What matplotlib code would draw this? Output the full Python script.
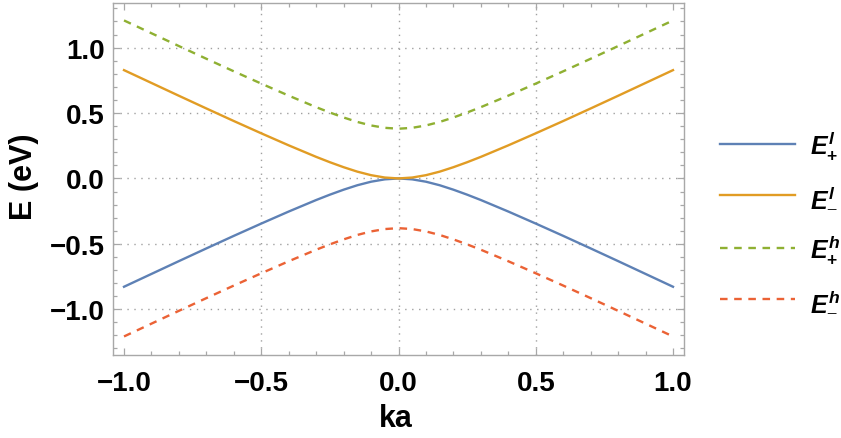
import matplotlib
matplotlib.use("Agg")
import matplotlib.pyplot as plt
from matplotlib.ticker import MultipleLocator

plt.rcParams['font.family'] = ['Liberation Sans', 'DejaVu Sans']
plt.rcParams['mathtext.fontset'] = 'custom'
plt.rcParams['mathtext.it'] = 'Liberation Sans:italic:bold'
plt.rcParams['mathtext.rm'] = 'Liberation Sans:bold'
plt.rcParams['mathtext.bf'] = 'Liberation Sans:bold'

# wave vector (ka) samples
ka = [-1.0, -0.9, -0.8, -0.7, -0.6, -0.5, -0.4, -0.3, -0.25, -0.2, -0.15, -0.1, -0.05,
      0.0, 0.05, 0.1, 0.15, 0.2, 0.25, 0.3, 0.4, 0.5, 0.6, 0.7, 0.8, 0.9, 1.0]

# band energies (eV)
E_plus_l = [-0.828, -0.730, -0.632, -0.535, -0.439, -0.345, -0.253, -0.165, -0.124, -0.086,
            -0.052, -0.025, -0.007, 0.0, -0.007, -0.025, -0.052, -0.086, -0.124, -0.165,
            -0.253, -0.345, -0.439, -0.535, -0.632, -0.730, -0.828]
E_minus_l = [0.828, 0.730, 0.632, 0.535, 0.439, 0.345, 0.253, 0.165, 0.124, 0.086,
             0.052, 0.025, 0.007, 0.0, 0.007, 0.025, 0.052, 0.086, 0.124, 0.165,
             0.253, 0.345, 0.439, 0.535, 0.632, 0.730, 0.828]
E_plus_h = [1.208, 1.110, 1.012, 0.915, 0.819, 0.725, 0.633, 0.545, 0.504, 0.466,
            0.432, 0.405, 0.387, 0.380, 0.387, 0.405, 0.432, 0.466, 0.504, 0.545,
            0.633, 0.725, 0.819, 0.915, 1.012, 1.110, 1.208]
E_minus_h = [-1.208, -1.110, -1.012, -0.915, -0.819, -0.725, -0.633, -0.545, -0.504, -0.466,
             -0.432, -0.405, -0.387, -0.380, -0.387, -0.405, -0.432, -0.466, -0.504, -0.545,
             -0.633, -0.725, -0.819, -0.915, -1.012, -1.110, -1.208]

labels = [r'$E^{l}_{+}$', r'$E^{l}_{-}$', r'$E^{h}_{+}$', r'$E^{h}_{-}$']
colors = ['#5E81B5', '#E19C24', '#8FB032', '#EB6235']

fig = plt.figure(figsize=(8.41, 4.39), dpi=100)
ax = fig.add_axes([0.1344, 0.189, 0.6789, 0.803])

frame_col = '#a8a8a8'
grid_kw = dict(color='#a0a0a0', lw=1.0, ls=(0, (1, 4)), zorder=0)
for gx in [-0.5, 0.0, 0.5]:
    ax.axvline(gx, **grid_kw)
for gy in [-1.0, -0.5, 0.0, 0.5, 1.0]:
    ax.axhline(gy, **grid_kw)

lw = 1.7
ax.plot(ka, E_plus_l, color=colors[0], lw=lw, label=labels[0])
ax.plot(ka, E_minus_l, color=colors[1], lw=lw, label=labels[1])
ax.plot(ka, E_plus_h, color=colors[2], lw=lw, dashes=(3.2, 2.8), label=labels[2])
ax.plot(ka, E_minus_h, color=colors[3], lw=lw, dashes=(3.2, 2.8), label=labels[3])

ax.set_xlim(-1.04, 1.04)
ax.set_ylim(-1.35, 1.345)

ax.xaxis.set_major_locator(MultipleLocator(0.5))
ax.xaxis.set_minor_locator(MultipleLocator(0.1))
ax.yaxis.set_major_locator(MultipleLocator(0.5))
ax.yaxis.set_minor_locator(MultipleLocator(0.1))
ax.xaxis.set_major_formatter(lambda v, p: f'{v:.1f}'.replace('-', '\u2212'))
ax.yaxis.set_major_formatter(lambda v, p: f'{v:.1f}'.replace('-', '\u2212'))

for s in ax.spines.values():
    s.set_color(frame_col)
    s.set_linewidth(1.0)

ax.tick_params(which='both', direction='in', top=True, right=True, color=frame_col, width=0.9)
ax.tick_params(which='major', length=5)
ax.tick_params(which='minor', length=3)
ax.tick_params(axis='x', which='major', pad=11, labelsize=20)
ax.tick_params(axis='y', which='major', pad=6, labelsize=20)
for t in ax.get_xticklabels() + ax.get_yticklabels():
    t.set_fontweight('bold')

fig.text(396 / 841, 1 - 419 / 439, 'ka', fontsize=22, fontweight='bold',
         ha='center', va='center')
fig.text(24 / 841, 1 - 177 / 439, 'E (eV)', fontsize=22, fontweight='bold',
         ha='center', va='center', rotation=90)

leg = ax.legend(loc='center left', bbox_to_anchor=(1.0245, 0.381), frameon=False,
                fontsize=18, handlelength=3.0, handletextpad=0.6, labelspacing=0.95)

fig.savefig('out.png', dpi=100)
